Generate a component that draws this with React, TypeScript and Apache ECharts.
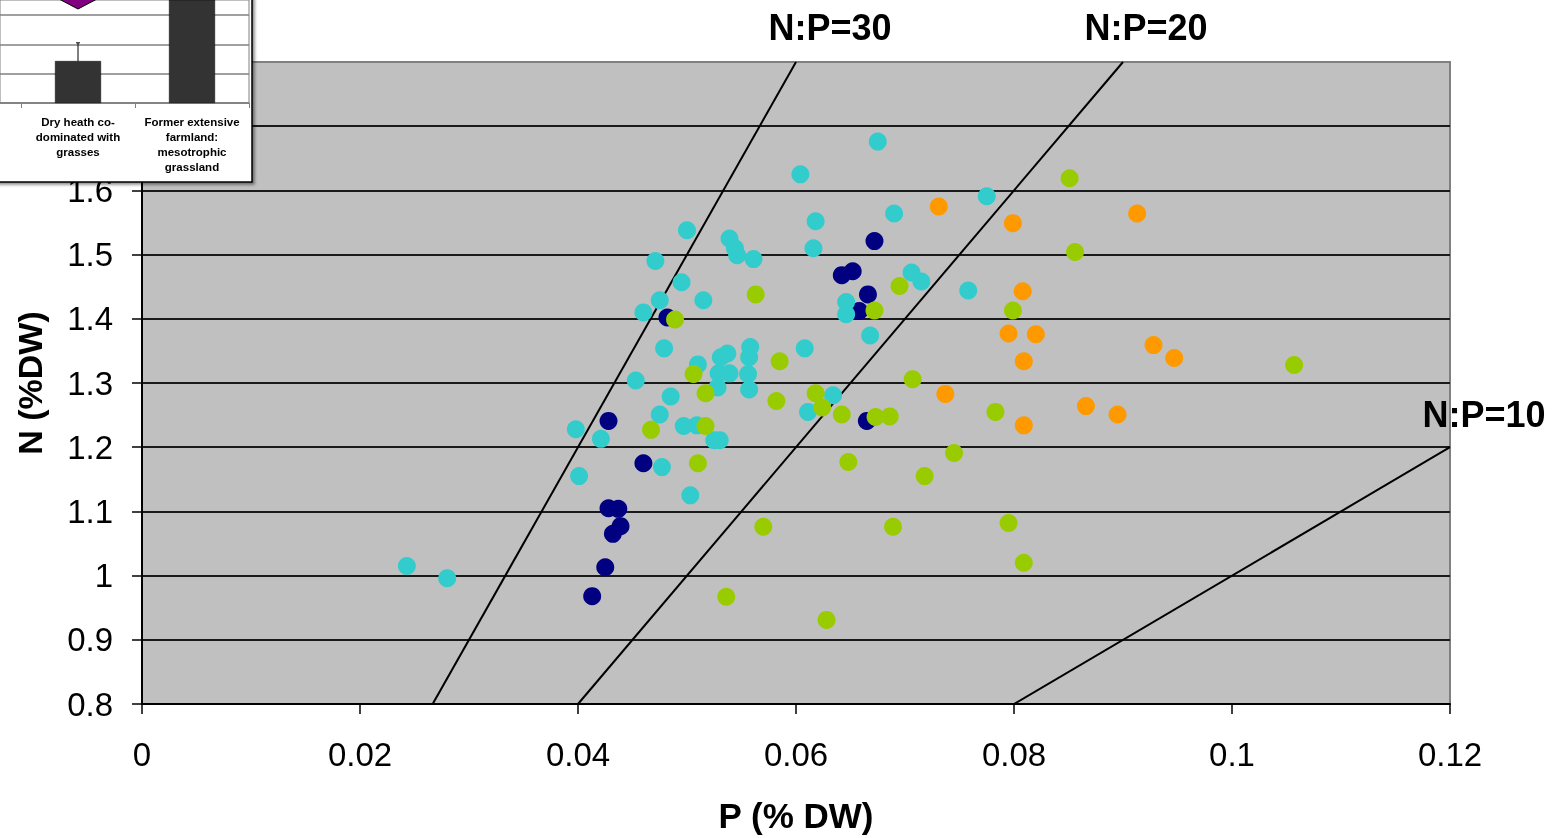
import React, { useEffect, useRef } from 'react';
import * as echarts from 'echarts';

// Main scatter data: [P (% DW), N (% DW)]
const navyPoints: [number, number][] = [
  [0.0672, 1.521], [0.0642, 1.468], [0.0652, 1.474], [0.0666, 1.438], [0.0658, 1.412],
  [0.0482, 1.402], [0.0665, 1.241], [0.0428, 1.241], [0.046, 1.175], [0.0428, 1.105],
  [0.0437, 1.104], [0.0439, 1.077], [0.0432, 1.065], [0.0425, 1.013], [0.0413, 0.968],
];
const cyanPoints: [number, number][] = [
  [0.0675, 1.676], [0.0604, 1.625], [0.0775, 1.591], [0.069, 1.564], [0.0618, 1.552],
  [0.05, 1.538], [0.0539, 1.525], [0.0544, 1.51], [0.0546, 1.499], [0.0616, 1.51],
  [0.0561, 1.493], [0.0471, 1.49], [0.0495, 1.457], [0.0706, 1.472], [0.0715, 1.458],
  [0.0758, 1.444], [0.0475, 1.429], [0.0515, 1.429], [0.046, 1.41], [0.0646, 1.426],
  [0.0646, 1.407], [0.0668, 1.374], [0.0479, 1.354], [0.0608, 1.354], [0.0558, 1.356],
  [0.0557, 1.34], [0.0537, 1.346], [0.0531, 1.34], [0.051, 1.329], [0.0529, 1.315],
  [0.0539, 1.315], [0.0556, 1.314], [0.0453, 1.304], [0.0528, 1.293], [0.0557, 1.29],
  [0.0485, 1.279], [0.0634, 1.281], [0.0611, 1.255], [0.0475, 1.251], [0.0398, 1.228],
  [0.0421, 1.213], [0.0497, 1.233], [0.0509, 1.234], [0.0525, 1.211], [0.053, 1.211],
  [0.0477, 1.169], [0.0401, 1.155], [0.0503, 1.125], [0.0243, 1.015], [0.028, 0.996],
];
const greenPoints: [number, number][] = [
  [0.0851, 1.619], [0.0856, 1.504], [0.0695, 1.451], [0.0563, 1.438], [0.0672, 1.413],
  [0.0799, 1.413], [0.0489, 1.399], [0.0585, 1.334], [0.0506, 1.314], [0.0707, 1.306],
  [0.1057, 1.328], [0.0517, 1.284], [0.0582, 1.272], [0.0618, 1.284], [0.0624, 1.262],
  [0.0642, 1.251], [0.0673, 1.247], [0.0686, 1.248], [0.0783, 1.255], [0.0467, 1.227],
  [0.0517, 1.233], [0.051, 1.175], [0.0648, 1.177], [0.0745, 1.191], [0.0718, 1.155],
  [0.057, 1.076], [0.0689, 1.076], [0.0795, 1.082], [0.0809, 1.02], [0.0536, 0.967],
  [0.0628, 0.931],
];
const orangePoints: [number, number][] = [
  [0.0731, 1.575], [0.0799, 1.549], [0.0913, 1.564], [0.0808, 1.443], [0.0795, 1.377],
  [0.082, 1.376], [0.0809, 1.334], [0.0928, 1.359], [0.0947, 1.339], [0.0737, 1.283],
  [0.0866, 1.264], [0.0895, 1.251], [0.0809, 1.234],
];

// N:P ratio reference lines
const npRatios = [30, 20, 10];
const npLabels = ['N:P=30', 'N:P=20', 'N:P=10'];

// Axes
const xMin = 0, xMax = 0.12, xStep = 0.02;
const yMin = 0.8, yMax = 1.8, yStep = 0.1;
const yLabelHiddenAbove = 1.65; // 1.7 and 1.8 lie under the inset

// Inset bar chart (partially visible); x positions are category indices
const insetCategoryLabels = ['', 'Dry heath co-\ndominated with\ngrasses', 'Former extensive\nfarmland:\nmesotrophic\ngrassland'];
const insetBars: [number, number][] = [[1, 1.43], [2, 4.6]];
const insetErrorBars: [number, number, number][] = [[1, 1.43, 2.05]];
const insetMarkers: [number, number][] = [[1, 3.58]];
const insetBoundaries = [0.5, 1.5, 2.5];
const insetLabelPositions = [1, 2];

const FONT = '"Liberation Sans", Arial, Helvetica, sans-serif';

function ratioLine(r: number): [number, number][] {
  const n1 = Math.min(yMax, xMax * r);
  return [[yMin / r, yMin], [n1 / r, n1]];
}

export default function App() {
  const ref = useRef<HTMLDivElement>(null);
  useEffect(() => {
    if (!ref.current) return;
    const chart = echarts.init(ref.current, null, { renderer: 'svg' });
    const scatterBase = { type: 'scatter', symbolSize: 18, xAxisIndex: 0, yAxisIndex: 0 };
    const option: any = {
      animation: false,
      textStyle: { fontFamily: FONT },
      grid: [
        {
          left: 142, right: 116, top: 62, bottom: 134,
          show: true, backgroundColor: '#c0c0c0', borderColor: '#808080', borderWidth: 2,
        },
        {
          left: 0, top: 0, width: 249, height: 103, z: 11,
          show: true, backgroundColor: 'transparent', borderColor: '#808080', borderWidth: 1,
        },
      ],
      xAxis: [
        {
          type: 'value', gridIndex: 0, min: xMin, max: xMax, interval: xStep,
          name: 'P (% DW)', nameLocation: 'middle', nameGap: 94,
          nameTextStyle: { fontFamily: FONT, fontSize: 35, fontWeight: 'bold', color: '#000' },
          axisLine: { show: true, lineStyle: { color: '#000', width: 2 } },
          axisTick: { show: true, length: 10, lineStyle: { color: '#000', width: 1.5 } },
          axisLabel: { fontFamily: FONT, fontSize: 33, color: '#000', margin: 34 },
          splitLine: { show: false },
        },
        {
          type: 'value', gridIndex: 1, min: 1 - 78 / 114, max: 2.5, z: 11,
          axisLine: { show: true, lineStyle: { color: '#808080', width: 1.5 } },
          axisTick: { show: true, length: 5, customValues: insetBoundaries, lineStyle: { color: '#808080' } },
          axisLabel: {
            customValues: insetLabelPositions, margin: 11, fontFamily: FONT, fontSize: 11.5,
            fontWeight: 'bold', color: '#000', lineHeight: 15, align: 'center',
            formatter: (v: number) => insetCategoryLabels[Math.round(v)] || '',
          },
          splitLine: { show: false },
        },
      ],
      yAxis: [
        {
          type: 'value', gridIndex: 0, min: yMin, max: yMax, interval: yStep,
          name: 'N (%DW)', nameLocation: 'middle', nameGap: 95,
          nameTextStyle: { fontFamily: FONT, fontSize: 34, fontWeight: 'bold', color: '#000' },
          axisLine: { show: true, lineStyle: { color: '#000', width: 2 } },
          axisTick: { show: true, length: 10, lineStyle: { color: '#000', width: 1.5 } },
          axisLabel: {
            fontFamily: FONT, fontSize: 33, color: '#000', margin: 29,
            formatter: (v: number) => (v > yLabelHiddenAbove ? '' : String(Math.round(v * 10) / 10)),
          },
          splitLine: { show: true, showMaxLine: false, lineStyle: { color: '#1a1a1a', width: 2 } },
        },
        {
          type: 'value', gridIndex: 1, min: 0, max: 3.51, interval: 1, z: 11,
          axisLine: { show: false }, axisTick: { show: false }, axisLabel: { show: false },
          splitLine: { show: true, showMaxLine: false, lineStyle: { color: '#808080', width: 1.5 } },
        },
      ],
      series: [
        ...npRatios.map((r) => ({
          type: 'line', data: ratioLine(r), xAxisIndex: 0, yAxisIndex: 0,
          showSymbol: false, symbol: 'none', silent: true, z: 3,
          lineStyle: { color: '#000', width: 2 },
        })),
        { ...scatterBase, data: navyPoints, itemStyle: { color: '#000080', opacity: 1 }, z: 4 },
        { ...scatterBase, data: cyanPoints, itemStyle: { color: '#33cccc', opacity: 1 }, z: 5 },
        { ...scatterBase, data: greenPoints, itemStyle: { color: '#99cc00', opacity: 1 }, z: 6 },
        { ...scatterBase, data: orangePoints, itemStyle: { color: '#ff9900', opacity: 1 }, z: 7 },
        {
          type: 'bar', xAxisIndex: 1, yAxisIndex: 1, data: insetBars, barWidth: 46, z: 12,
          itemStyle: { color: '#333333', borderColor: '#000', borderWidth: 0.5 },
        },
        {
          type: 'custom', xAxisIndex: 1, yAxisIndex: 1, z: 13, data: insetErrorBars,
          renderItem: (_p: any, api: any) => {
            const c = api.value(0);
            const lo = api.coord([c, api.value(1)]);
            const hi = api.coord([c, api.value(2)]);
            return {
              type: 'group',
              children: [
                { type: 'line', shape: { x1: lo[0], y1: lo[1], x2: hi[0], y2: hi[1] }, style: { stroke: '#000', lineWidth: 1 } },
                { type: 'line', shape: { x1: hi[0] - 2, y1: hi[1], x2: hi[0] + 2, y2: hi[1] }, style: { stroke: '#000', lineWidth: 1 } },
              ],
            };
          },
        },
        {
          type: 'scatter', xAxisIndex: 1, yAxisIndex: 1, data: insetMarkers, z: 14, clip: false,
          symbol: 'diamond', symbolSize: [42, 22],
          itemStyle: { color: '#800080', borderColor: '#000', borderWidth: 1, opacity: 1 },
        },
      ],
      graphic: [
        {
          type: 'rect', z: 10, silent: true,
          shape: { x: -10, y: -10, width: 262, height: 192 },
          style: {
            fill: '#fff', stroke: '#000', lineWidth: 1.5,
            shadowBlur: 3, shadowOffsetX: 2, shadowOffsetY: 2, shadowColor: 'rgba(0,0,0,0.45)',
          },
        },
        ...[[830, 27], [1146, 27], [1484, 414]].map(([x, y], i) => ({
          type: 'text', x, y, z: 20, silent: true,
          style: {
            text: npLabels[i], fill: '#000', fontFamily: FONT, fontSize: 36, fontWeight: 'bold',
            align: 'center', verticalAlign: 'middle', textAlign: 'center', textVerticalAlign: 'middle',
          },
        })),
      ],
    };
    chart.setOption(option);
    return () => chart.dispose();
  }, []);
  return <div ref={ref} style={{ position: 'fixed', left: 0, top: 0, width: 1566, height: 838 }} />;
}
